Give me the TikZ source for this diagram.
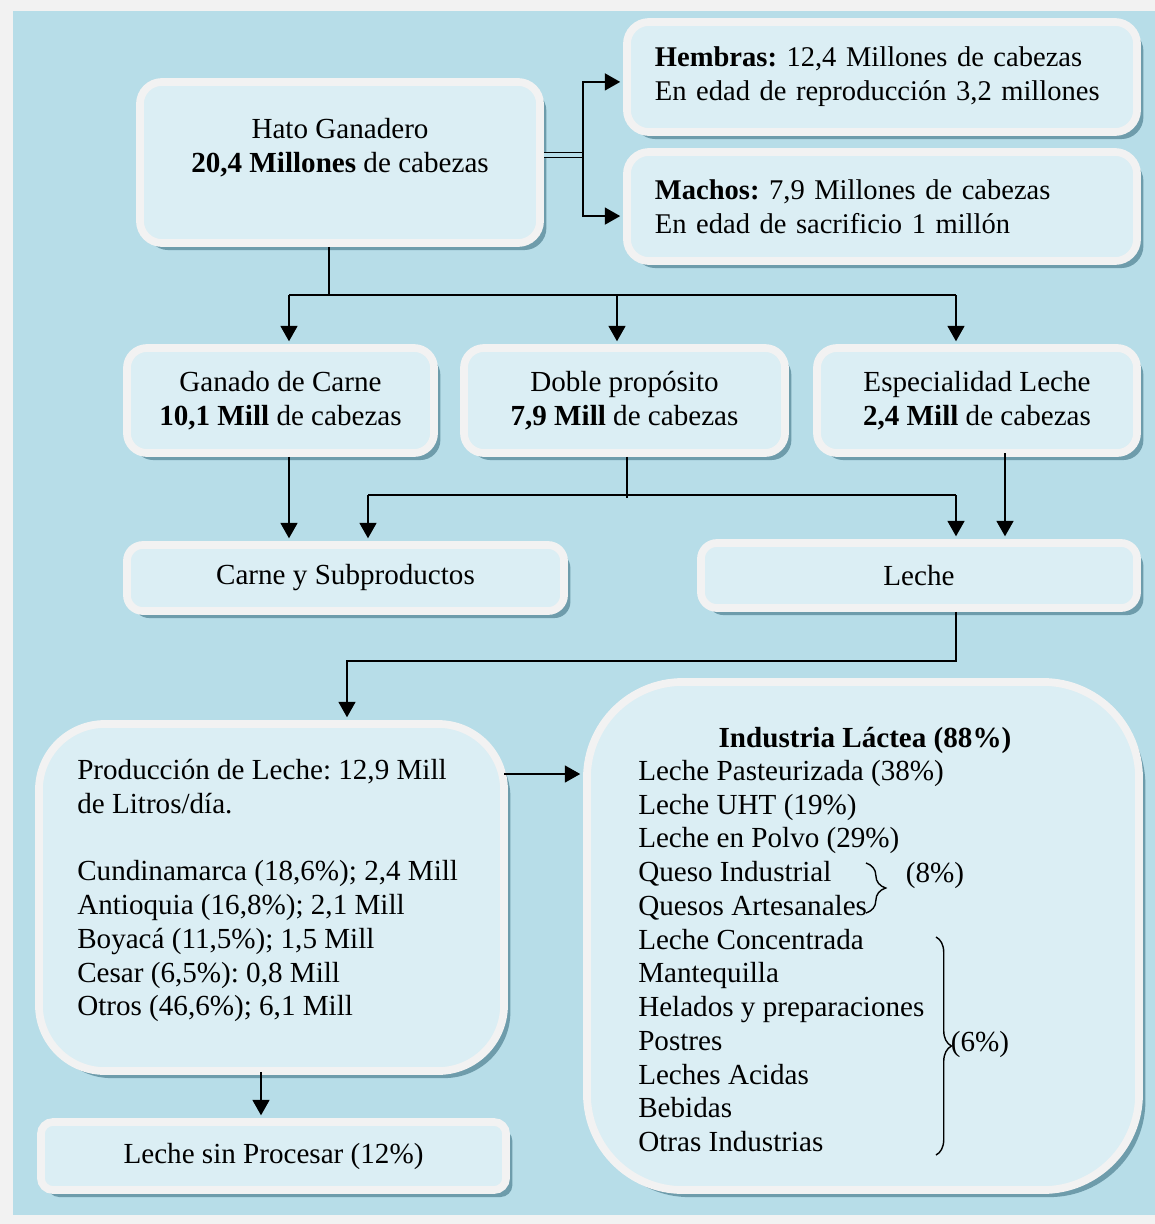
\documentclass[tikz,border=0pt]{standalone}
\usepackage{fontspec}
\setmainfont{Liberation Serif}
\usepackage{tikz}
\usetikzlibrary{arrows.meta, shadows, decorations.pathreplacing, calc}
\usepackage{xcolor}
\definecolor{marco}{HTML}{F2F2F2}
\definecolor{fondo}{HTML}{B7DDE8}
\definecolor{relleno}{HTML}{DBEEF4}
\definecolor{borde}{HTML}{F2F2F2}
\definecolor{sombra}{HTML}{6E9CAB}

\begin{document}
\begin{tikzpicture}[x=0.025cm, y=-0.025cm,
        font=\fontsize{20.7}{24}\selectfont\frenchspacing,
        block/.style={rectangle, draw=borde, line width=5.5pt, fill=relleno, align=center, rounded corners=0.5cm, general shadow={fill=sombra, shadow xshift=4.5pt, shadow yshift=-5pt}},
        info/.style={block, rounded corners=0.55cm, align=left, text width=11.35cm, inner xsep=0.7cm, minimum width=12.75cm, minimum height=2.75cm, font=\fontsize{20.3}{24}\selectfont\frenchspacing},
        linea/.style={draw=black, line width=1.5pt},
        lineadoble/.style={draw=black, line width=1.2pt, double=fondo, double distance=2.2pt},
        flecha/.style={linea, -{Triangle[length=11pt, width=12pt]}, shorten >=2pt},
        llave/.style={draw=black, line width=1pt, decorate}
    ]
        % Fondo del esquema
        \useasboundingbox (0,0) rectangle (1155,1224);
        \fill[marco] (0,0) rectangle (1155,1224);
        \fill[fondo] (13,11) rectangle (1155,1215);

        % Hato y su composicion
        \node [block, rounded corners=0.55cm, minimum width=10cm, minimum height=4.025cm] (hato) at (340,162.5) {Hato Ganadero\\\textbf{20,4 Millones} de cabezas\\\mbox{}};
        \node [info] (hembras) at (882,77) {\textbf{Hembras:} 12,4 Millones de cabezas\\En edad de reproducción 3,2 millones};
        \node [info, minimum height=2.725cm] (machos) at (882,206.5) {\textbf{Machos:} 7,9 Millones de cabezas\\En edad de sacrificio 1 millón};

        % Tipos de ganado
        \node [block, minimum width=7.675cm, minimum height=2.625cm] (ganado) at (280.5,400.5) {Ganado de Carne\\\textbf{10,1 Mill} de cabezas};
        \node [block, minimum width=8.025cm, minimum height=2.625cm] (doble) at (624.5,400.5) {Doble propósito\\\textbf{7,9 Mill} de cabezas};
        \node [block, minimum width=8cm, minimum height=2.625cm] (espec) at (977,400.5) {Especialidad Leche\\\textbf{2,4 Mill} de cabezas};

        % Productos
        \node [block, rounded corners=0.4cm, minimum width=10.925cm, minimum height=1.65cm] (carne) at (345.5,578) {Carne y Subproductos};
        \node [block, rounded corners=0.4cm, minimum width=10.9cm, minimum height=1.625cm] (leche) at (919,575.5) {Leche};

        % Produccion e industria
        \node [block, rounded corners=1.65cm, minimum width=11.625cm, minimum height=8.675cm] (prod) at (271.5,897.5) {};
        \node [anchor=north west, align=left, inner sep=0pt] (prodtxt) at (77,759) {Producción de Leche: 12,9 Mill\\de Litros/día.\\[24pt]Cundinamarca (18,6\%); 2,4 Mill\\Antioquia (16,8\%); 2,1 Mill\\Boyacá (11,5\%); 1,5 Mill\\Cesar (6,5\%): 0,8 Mill\\Otros (46,6\%); 6,1 Mill};
        \node [block, rounded corners=2.4cm, minimum width=13.8cm, minimum height=12.7cm] (ind) at (863,936) {};
        \node [anchor=base, inner sep=0pt] (titulo) at (865,747) {\textbf{Industria Láctea (88\%)}};
        \node [anchor=north west, align=left, inner sep=0pt] (lista) at (638,760) {Leche Pasteurizada (38\%)\\Leche UHT (19\%)\\Leche en Polvo (29\%)\\Queso Industrial\\Quesos Artesanales\\Leche Concentrada\\Mantequilla\\Helados y preparaciones\\Postres\\Leches Acidas\\Bebidas\\Otras Industrias};
        \node [block, rounded corners=0.3cm, minimum width=11.625cm, minimum height=1.7cm] (sinproc) at (273.5,1156) {Leche sin Procesar (12\%)};

        % Llaves de agrupacion
        \coordinate (llaveA1) at (866,863);
        \coordinate (llaveA2) at (866,913);
        \coordinate (llaveB1) at (936,937);
        \coordinate (llaveB2) at (936,1155);
        \draw [llave, decoration={brace, amplitude=14pt}] (llaveA1) -- (llaveA2);
        \draw [llave, decoration={brace, amplitude=11pt}] (llaveB1) -- (llaveB2);
        \node [anchor=base, inner sep=0pt] (ocho) at (935,882) {(8\%)};
        \node [anchor=base, inner sep=0pt] (seis) at (980,1051) {(6\%)};

        % Conexiones del hato
        \coordinate (bif) at (583,155);
        \draw [lineadoble] (hato.east |- bif) -- (bif);
        \draw [flecha] (bif) |- ([yshift=-3.5pt]hembras.west);
        \draw [flecha] (bif) |- ([yshift=-6.8pt]machos.west);

        \coordinate (rama) at (329,295);
        \coordinate (ramaI) at (289,295);
        \coordinate (ramaC) at (617,295);
        \coordinate (ramaD) at (956,295);
        \draw [linea] (hato.south -| rama) -- (rama);
        \draw [linea] (ramaI) -- (ramaD);
        \draw [flecha] (ramaI) -- (ramaI |- ganado.north);
        \draw [flecha] (ramaC) -- (ramaC |- doble.north);
        \draw [flecha] (ramaD) -- (ramaD |- espec.north);

        % Hacia carne y leche
        \draw [flecha] (ganado.south -| ramaI) -- (ramaI |- carne.north);
        \coordinate (dobleC) at (627,498);
        \coordinate (dobleI) at (368,495);
        \coordinate (dobleD) at (956,495);
        \draw [linea] (doble.south -| dobleC) -- (dobleC);
        \draw [linea] (dobleI) -- (dobleD);
        \draw [flecha] (dobleI) -- (dobleI |- carne.north);
        \draw [flecha] (dobleD) -- (dobleD |- leche.north);
        \coordinate (especB) at (1005,453);
        \draw [flecha] (especB) -- (especB |- leche.north);

        % Destino de la leche
        \coordinate (lecheB) at (956,661);
        \coordinate (prodA) at (347,661);
        \draw [flecha] (leche.south -| lecheB) -- (lecheB) -- (prodA) -- (prodA |- prod.north);
        \coordinate (salida) at (504,774);
        \draw [flecha] (salida) -- (salida -| ind.west);
        \coordinate (bajada) at (261,1072);
        \draw [flecha] (bajada) -- (bajada |- sinproc.north);
    \end{tikzpicture}
\end{document}
